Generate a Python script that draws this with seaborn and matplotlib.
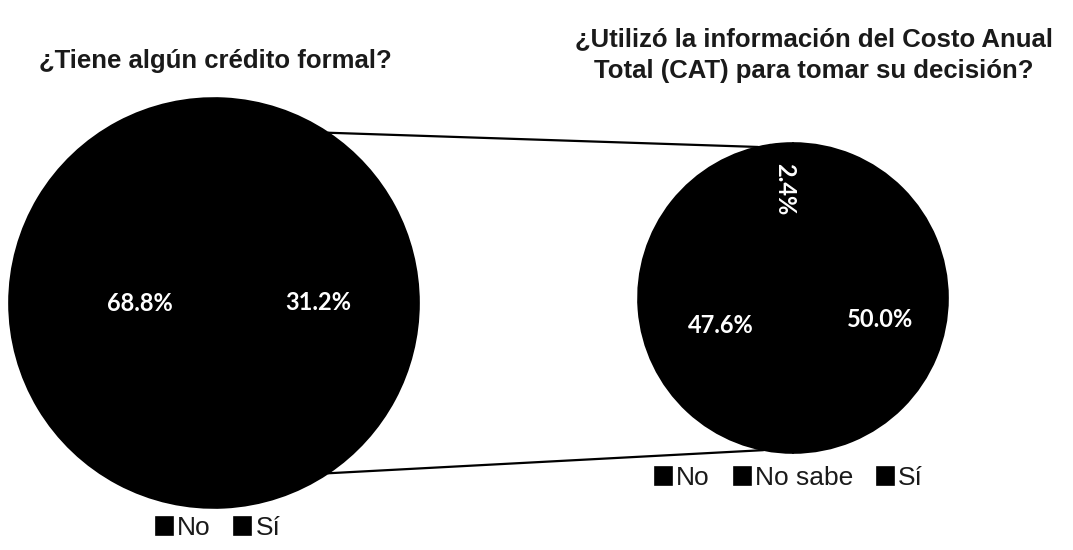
# Crédito formal y uso del CAT - dos pasteles (pie of pie)

import numpy as np
import matplotlib
matplotlib.use('Agg')
import matplotlib.pyplot as plt
from matplotlib.patches import ConnectionPatch
import seaborn as sns

# datos
cats_credito = ['No', 'Sí']
vals_credito = [68.8, 31.2]

cats_cat = ['No', 'No sabe', 'Sí']
vals_cat = [47.6, 2.4, 50.0]

titulo_izq = '¿Tiene algún crédito formal?'
titulo_der = '¿Utilizó la información del Costo Anual\nTotal (CAT) para tomar su decisión?'

sns.set_theme(style='white')
plt.rcParams['font.family'] = ['Liberation Sans', 'DejaVu Sans']

negro = sns.color_palette(['#000000'] * 3)

fig = plt.figure(figsize=(10.73, 5.5), dpi=100)
W, H = 1073, 550

# ejes posicionados en pixeles (centro x, centro y, radio)
def eje_pastel(cx, cy, r):
    return fig.add_axes([(cx - r) / W, (H - cy - r) / H, 2 * r / W, 2 * r / H])

ax1 = eje_pastel(214, 303, 205)
ax2 = eje_pastel(793, 298, 155)

estilo_pct = dict(color='white', fontsize=17, fontweight='bold', family=['Lato', 'DejaVu Sans'])
borde = dict(edgecolor='black', linewidth=1.2)

# pastel izquierdo: la rebanada "Sí" centrada a la derecha
inicio = vals_credito[1] * 3.6 / 2
cuñas1, _, pct1 = ax1.pie(vals_credito, colors=negro[:2], startangle=inicio,
                          counterclock=True, autopct='%.1f%%', pctdistance=0.5,
                          textprops=estilo_pct, wedgeprops=borde)

# pastel derecho
cuñas2, _, pct2 = ax2.pie(vals_cat, colors=negro[:3], startangle=-90,
                          counterclock=False, autopct='%.1f%%', pctdistance=0.5,
                          textprops=estilo_pct, wedgeprops=borde)

# ajustar distancia de etiquetas como en el original
def mover(cuñas, textos, dists, dy=0.0):
    for w, t, d in zip(cuñas, textos, dists):
        ang = np.deg2rad((w.theta1 + w.theta2) / 2)
        t.set_position((d * np.cos(ang), d * np.sin(ang) + dy))

mover(cuñas1, pct1, [0.36, 0.51])
mover(cuñas2, pct2, [0.47, 0.70, 0.56], dy=-0.14)
pct2[1].set_rotation(-90)
pct2[1].set_position((pct2[1].get_position()[0], 0.70))

for ax in (ax1, ax2):
    ax.set_xlim(-1, 1)
    ax.set_ylim(-1, 1)
    ax.set_aspect('equal')
    ax.axis('off')

# lineas de conexion
si = cuñas1[1]
for a1, a2 in [(si.theta2, 103), (si.theta1, 259)]:
    p1 = (np.cos(np.deg2rad(a1)), np.sin(np.deg2rad(a1)))
    p2 = (np.cos(np.deg2rad(a2)), np.sin(np.deg2rad(a2)))
    con = ConnectionPatch(xyA=p1, coordsA=ax1.transData, xyB=p2, coordsB=ax2.transData,
                          color='black', linewidth=1.6)
    fig.add_artist(con)

# titulos
fig.text(215 / W, 1 - 61 / H, titulo_izq, ha='center', va='center',
         fontsize=18.5, fontweight='bold', color='#1a1a1a')
fig.text(814 / W, 1 - 55 / H, titulo_der, ha='center', va='center',
         fontsize=18.5, fontweight='bold', color='#1a1a1a', linespacing=1.45)

# leyendas
leg_kw = dict(frameon=False, handlelength=0.65, handleheight=0.65,
              handletextpad=0.15, columnspacing=0.9, fontsize=19,
              labelcolor='#1a1a1a', loc='center')
fig.legend(cuñas1, cats_credito, ncol=2, bbox_to_anchor=(218 / W, 1 - 528 / H), **leg_kw)
fig.legend(cuñas2, cats_cat, ncol=3, bbox_to_anchor=(789 / W, 1 - 478 / H), **leg_kw)

plt.savefig('out.png', dpi=100)
